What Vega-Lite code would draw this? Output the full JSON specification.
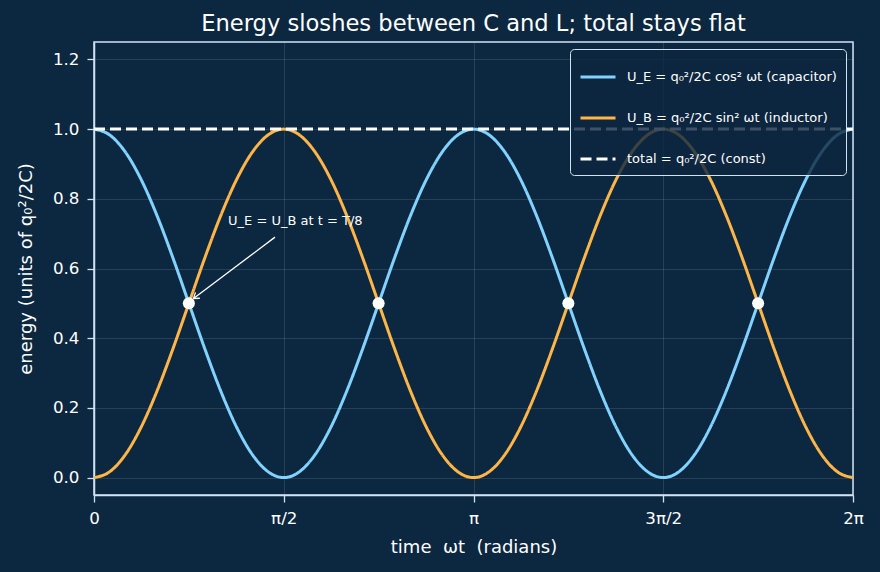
{
  "$schema": "https://vega.github.io/schema/vega-lite/v6.json",
  "autosize": "none",
  "width": 759,
  "height": 453,
  "padding": {"left": 94, "top": 42, "right": 27, "bottom": 77},
  "background": "#0c2740",
  "title": {"text": "Energy sloshes between C and L; total stays flat", "fontSize": 22.6, "font": "DejaVu Sans", "fontWeight": "normal", "color": "#ffffff", "offset": 6},
  "config": {
    "font": "DejaVu Sans",
    "view": {"stroke": "#cfe3f3", "strokeWidth": 1.5},
    "axis": {"labelFont": "DejaVu Sans", "titleFont": "DejaVu Sans", "labelFontSize": 16.7, "titleFontSize": 18, "labelColor": "#ffffff", "titleColor": "#ffffff", "titleFontWeight": "normal", "domainColor": "#cfe3f3", "domainWidth": 1.5, "tickColor": "#cfe3f3", "tickSize": 7, "tickWidth": 1.3, "labelPadding": 8, "gridColor": "#ffffff", "gridOpacity": 0.15, "gridWidth": 0.8},
    "legend": {"labelFont": "DejaVu Sans", "labelFontSize": 13, "labelColor": "#ffffff", "labelLimit": 0}
  },
  "datasets": {
    "curves": [
      {"deg": 0, "UE": 1, "UB": 0},
      {"deg": 7.5, "UE": 0.982963, "UB": 0.017037},
      {"deg": 15, "UE": 0.933013, "UB": 0.066987},
      {"deg": 22.5, "UE": 0.853553, "UB": 0.146447},
      {"deg": 30, "UE": 0.75, "UB": 0.25},
      {"deg": 37.5, "UE": 0.62941, "UB": 0.37059},
      {"deg": 45, "UE": 0.5, "UB": 0.5},
      {"deg": 52.5, "UE": 0.37059, "UB": 0.62941},
      {"deg": 60, "UE": 0.25, "UB": 0.75},
      {"deg": 67.5, "UE": 0.146447, "UB": 0.853553},
      {"deg": 75, "UE": 0.066987, "UB": 0.933013},
      {"deg": 82.5, "UE": 0.017037, "UB": 0.982963},
      {"deg": 90, "UE": 0, "UB": 1},
      {"deg": 97.5, "UE": 0.017037, "UB": 0.982963},
      {"deg": 105, "UE": 0.066987, "UB": 0.933013},
      {"deg": 112.5, "UE": 0.146447, "UB": 0.853553},
      {"deg": 120, "UE": 0.25, "UB": 0.75},
      {"deg": 127.5, "UE": 0.37059, "UB": 0.62941},
      {"deg": 135, "UE": 0.5, "UB": 0.5},
      {"deg": 142.5, "UE": 0.62941, "UB": 0.37059},
      {"deg": 150, "UE": 0.75, "UB": 0.25},
      {"deg": 157.5, "UE": 0.853553, "UB": 0.146447},
      {"deg": 165, "UE": 0.933013, "UB": 0.066987},
      {"deg": 172.5, "UE": 0.982963, "UB": 0.017037},
      {"deg": 180, "UE": 1, "UB": 0},
      {"deg": 187.5, "UE": 0.982963, "UB": 0.017037},
      {"deg": 195, "UE": 0.933013, "UB": 0.066987},
      {"deg": 202.5, "UE": 0.853553, "UB": 0.146447},
      {"deg": 210, "UE": 0.75, "UB": 0.25},
      {"deg": 217.5, "UE": 0.62941, "UB": 0.37059},
      {"deg": 225, "UE": 0.5, "UB": 0.5},
      {"deg": 232.5, "UE": 0.37059, "UB": 0.62941},
      {"deg": 240, "UE": 0.25, "UB": 0.75},
      {"deg": 247.5, "UE": 0.146447, "UB": 0.853553},
      {"deg": 255, "UE": 0.066987, "UB": 0.933013},
      {"deg": 262.5, "UE": 0.017037, "UB": 0.982963},
      {"deg": 270, "UE": 0, "UB": 1},
      {"deg": 277.5, "UE": 0.017037, "UB": 0.982963},
      {"deg": 285, "UE": 0.066987, "UB": 0.933013},
      {"deg": 292.5, "UE": 0.146447, "UB": 0.853553},
      {"deg": 300, "UE": 0.25, "UB": 0.75},
      {"deg": 307.5, "UE": 0.37059, "UB": 0.62941},
      {"deg": 315, "UE": 0.5, "UB": 0.5},
      {"deg": 322.5, "UE": 0.62941, "UB": 0.37059},
      {"deg": 330, "UE": 0.75, "UB": 0.25},
      {"deg": 337.5, "UE": 0.853553, "UB": 0.146447},
      {"deg": 345, "UE": 0.933013, "UB": 0.066987},
      {"deg": 352.5, "UE": 0.982963, "UB": 0.017037},
      {"deg": 360, "UE": 1, "UB": 0}
    ],
    "total": [
      {"deg": 0, "v": 1, "series": "total"},
      {"deg": 360, "v": 1, "series": "total"}
    ],
    "cross": [
      {"deg": 45, "v": 0.5},
      {"deg": 135, "v": 0.5},
      {"deg": 225, "v": 0.5},
      {"deg": 315, "v": 0.5}
    ],
    "note": [
      {"deg": 85.85, "v": 0.69, "deg2": 47.2, "v2": 0.514, "tx": 63.6, "ty": 0.736, "label": "U_E = U_B at t = T/8"}
    ]
  },
  "layer": [
    {
      "data": {"name": "curves"},
      "transform": [{"fold": ["UE", "UB"], "as": ["series", "v"]}],
      "mark": {"type": "line", "strokeWidth": 3, "interpolate": "monotone", "clip": true},
      "encoding": {
        "x": {"field": "deg", "type": "quantitative", "scale": {"domain": [0, 360], "nice": false, "zero": false}, "axis": {"values": [0, 90, 180, 270, 360], "labelFlush": false, "labelExpr": "datum.value == 0 ? '0' : datum.value == 90 ? 'π/2' : datum.value == 180 ? 'π' : datum.value == 270 ? '3π/2' : '2π'", "title": "time\u00a0\u00a0ωt\u00a0\u00a0(radians)", "titlePadding": 12}},
        "y": {"field": "v", "type": "quantitative", "scale": {"domain": [-0.05, 1.25], "nice": false, "zero": false}, "axis": {"values": [0, 0.2, 0.4, 0.6, 0.8, 1.0, 1.2], "format": ".1f", "title": "energy (units of q₀²/2C)", "titlePadding": 17}},
        "color": {"field": "series", "type": "nominal", "scale": {"domain": ["UE", "UB", "total"], "range": ["#82d2ff", "#ffb547", "#ffffff"]}, "legend": {"title": null, "orient": "top-right", "offset": 7, "symbolType": "stroke", "symbolSize": 1225, "symbolStrokeWidth": 3, "rowPadding": 15, "padding": 9, "labelOffset": 10, "fillColor": "rgba(12,39,64,0.8)", "strokeColor": "#cfe3f3", "cornerRadius": 4, "labelExpr": "datum.value == 'UE' ? 'U_E = q₀²/2C cos² ωt (capacitor)' : datum.value == 'UB' ? 'U_B = q₀²/2C sin² ωt (inductor)' : 'total  = q₀²/2C (const)'"}},
        "strokeDash": {"field": "series", "type": "nominal", "scale": {"domain": ["UE", "UB", "total"], "range": [[1, 0], [1, 0], [11, 5]]}, "legend": {"title": null, "orient": "top-right", "offset": 7, "symbolType": "stroke", "symbolSize": 1225, "symbolStrokeWidth": 3, "rowPadding": 15, "padding": 9, "labelOffset": 10, "fillColor": "rgba(12,39,64,0.8)", "strokeColor": "#cfe3f3", "cornerRadius": 4, "labelExpr": "datum.value == 'UE' ? 'U_E = q₀²/2C cos² ωt (capacitor)' : datum.value == 'UB' ? 'U_B = q₀²/2C sin² ωt (inductor)' : 'total  = q₀²/2C (const)'"}}
      }
    },
    {
      "data": {"name": "total"},
      "mark": {"type": "line", "strokeWidth": 3},
      "encoding": {
        "x": {"field": "deg", "type": "quantitative"},
        "y": {"field": "v", "type": "quantitative"},
        "color": {"field": "series", "type": "nominal"},
        "strokeDash": {"field": "series", "type": "nominal"}
      }
    },
    {
      "data": {"name": "cross"},
      "mark": {"type": "point", "filled": true, "opacity": 1, "size": 145, "color": "#ffffff"},
      "encoding": {
        "x": {"field": "deg", "type": "quantitative"},
        "y": {"field": "v", "type": "quantitative"}
      }
    },
    {
      "data": {"name": "note"},
      "mark": {"type": "rule", "color": "#ffffff", "strokeWidth": 1.3},
      "encoding": {
        "x": {"field": "deg", "type": "quantitative"},
        "y": {"field": "v", "type": "quantitative"},
        "x2": {"field": "deg2"},
        "y2": {"field": "v2"}
      }
    },
    {
      "data": {"name": "note"},
      "mark": {"type": "point", "shape": "M-1,-0.7L0,0L-1,0.7", "filled": false, "opacity": 1, "stroke": "#ffffff", "strokeWidth": 1.3, "size": 110, "angle": 143},
      "encoding": {
        "x": {"field": "deg2", "type": "quantitative"},
        "y": {"field": "v2", "type": "quantitative"}
      }
    },
    {
      "data": {"name": "note"},
      "mark": {"type": "text", "align": "left", "baseline": "middle", "fontSize": 13, "color": "#ffffff", "font": "DejaVu Sans"},
      "encoding": {
        "x": {"field": "tx", "type": "quantitative"},
        "y": {"field": "ty", "type": "quantitative"},
        "text": {"field": "label"}
      }
    }
  ]
}
